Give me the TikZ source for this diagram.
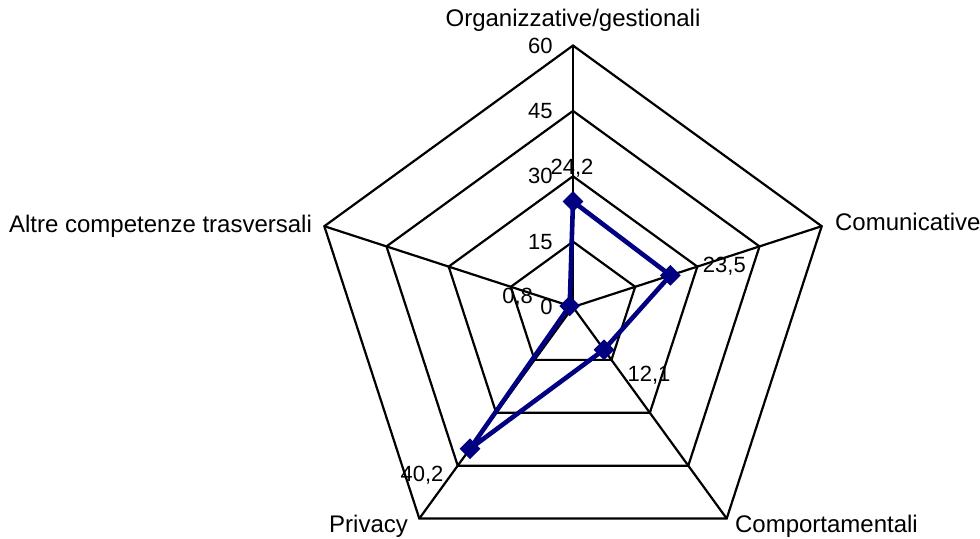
\documentclass[tikz,border=0pt]{standalone}
\usepackage{fontspec}
\setmainfont{Liberation Sans}
\usetikzlibrary{shapes.geometric}
\definecolor{seriesnavy}{RGB}{0,0,128}
\tikzset{
  gridline/.style={line width=1.1pt, black},
  seriesline/.style={line width=2.3pt, seriesnavy, line join=round},
  marker/.style={diamond, fill=seriesnavy, inner sep=0pt, minimum width=10.5pt, minimum height=10.5pt},
  txt/.style={inner sep=0pt, font=\fontsize{11pt}{13pt}\selectfont},
  cattxt/.style={inner sep=0pt, font=\fontsize{12pt}{14pt}\selectfont},
}

\begin{document}
\begin{tikzpicture}[x=0.5pt,y=0.5pt]
\useasboundingbox (0,0) rectangle (980,538);
\begin{scope}[shift={(573,231)},x=2.179pt,y=2.179pt]
    \coordinate (c) at (0,0);
    \coordinate (org) at (90:60);
    \coordinate (com) at (18:60);
    \coordinate (comp) at (-54:60);
    \coordinate (priv) at (-126:60);
    \coordinate (altre) at (162:60);

    % grid
    \foreach \r in {15,30,45,60}
        \draw[gridline] (90:\r) -- (18:\r) -- (-54:\r) -- (-126:\r) -- (162:\r) -- cycle;
    \foreach \v in {org,com,comp,priv,altre}
        \draw[gridline] (c) -- (\v);

    % scale
    \foreach \r in {0,15,30,45,60}
        \node[txt, anchor=east] (s\r) at ([xshift=-10pt]90:\r) {\r};

    % series
    \coordinate (p1) at (90:24.2);
    \coordinate (p2) at (18:23.5);
    \coordinate (p3) at (-54:12.1);
    \coordinate (p4) at (-126:40.2);
    \coordinate (p5) at (162:0.8);
    \draw[seriesline] (p1) -- (p2) -- (p3) -- (p4) -- (p5) -- cycle;
    \foreach \i in {1,...,5}
        \node[marker] (m\i) at (p\i) {};

    \node[txt] (v1) at ([shift={(-0.5pt,16.75pt)}]p1) {24,2};
    \node[txt] (v2) at ([shift={(27pt,4.5pt)}]p2) {23,5};
    \node[txt] (v3) at ([shift={(22.5pt,-13pt)}]p3) {12,1};
    \node[txt] (v4) at ([shift={(-24pt,-13pt)}]p4) {40,2};
    \node[txt] (v5) at ([shift={(-26pt,4.5pt)}]p5) {0,8};

    % categories
    \node[cattxt, anchor=base] (lorg) at ([yshift=9.5pt]org) {Organizzative/gestionali};
    \node[cattxt, anchor=base west] (lcom) at ([shift={(6.5pt,-2pt)}]com) {Comunicative};
    \node[cattxt, anchor=base west] (lcomp) at ([shift={(4pt,-7pt)}]comp) {Comportamentali};
    \node[cattxt, anchor=base east] (lpriv) at ([shift={(-5.5pt,-7pt)}]priv) {Privacy};
    \node[cattxt, anchor=base east] (laltre) at ([shift={(-6pt,-3.3pt)}]altre) {Altre competenze trasversali};
\end{scope}
\end{tikzpicture}
\end{document}
